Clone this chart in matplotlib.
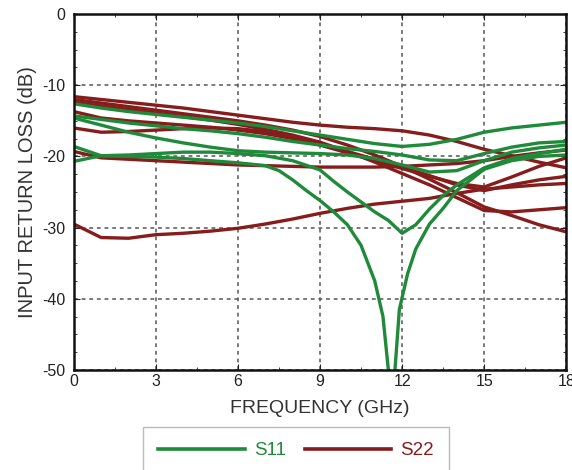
import numpy as np
import matplotlib
matplotlib.use('Agg')
import matplotlib.pyplot as plt
from matplotlib.ticker import MultipleLocator

plt.rcParams['font.family'] = ['Liberation Sans', 'DejaVu Sans']
plt.rcParams['axes.unicode_minus'] = False

GREEN = '#1f8a3a'
RED = '#861c1c'

# common frequency grid (GHz)
freq = [0, 1, 2, 3, 4, 5, 6, 7, 8, 9, 10, 11, 12, 13, 14, 15, 16, 17, 18]

# S11 curves (dB)
s11_1 = [-12.6, -13.2, -13.7, -14.1, -14.5, -14.9, -15.3, -15.8, -16.4, -17.0,
         -17.6, -18.2, -18.6, -18.3, -17.6, -16.6, -16.0, -15.6, -15.2]
s11_2 = [-14.3, -14.8, -15.3, -15.7, -16.1, -16.4, -16.8, -17.3, -17.9, -18.4,
         -18.9, -19.3, -19.8, -20.5, -20.6, -19.6, -18.7, -18.1, -17.9]
s11_3 = [-14.6, -15.6, -16.6, -17.4, -18.1, -18.7, -19.2, -19.4, -19.5, -19.6,
         -19.8, -20.3, -21.2, -22.2, -22.0, -20.6, -19.4, -18.8, -18.4]
freq_b = [0, 1, 2, 3, 4, 5, 6, 7, 8, 9, 9.5, 10, 10.5, 11, 11.5, 12, 12.5, 13,
          13.5, 14, 15, 16, 17, 18]
s11_4 = [-18.6, -19.9, -19.8, -19.6, -19.4, -19.4, -19.6, -19.9, -20.6, -21.9,
         -23.5, -25.0, -26.4, -27.8, -29.0, -30.8, -29.6, -27.4, -25.5, -24.0,
         -21.6, -20.3, -19.6, -19.0]
freq_a = [0, 1, 2, 3, 4, 5, 6, 7, 7.5, 8, 8.5, 9, 9.5, 10, 10.5, 11, 11.3, 11.55,
          11.7, 11.9, 12.2, 12.5, 13, 13.5, 14, 15, 16, 17, 18]
s11_5 = [-20.7, -19.9, -20.0, -20.1, -20.3, -20.6, -20.9, -21.3, -22.0, -23.3,
         -24.8, -26.2, -27.8, -29.6, -32.5, -37.5, -42.5, -52.0, -52.0, -41.5,
         -36.5, -33.0, -29.5, -27.3, -24.8, -21.8, -20.6, -20.0, -19.8]

# S22 curves (dB)
s22_1 = [-11.6, -12.0, -12.4, -12.8, -13.2, -13.7, -14.2, -14.7, -15.2, -15.6,
         -15.9, -16.1, -16.4, -17.0, -17.9, -19.0, -19.9, -20.8, -21.6]
s22_2 = [-12.0, -12.5, -13.0, -13.5, -14.0, -14.5, -15.0, -15.6, -16.3, -17.2,
         -18.4, -19.8, -21.4, -23.2, -25.1, -27.1, -28.3, -29.6, -30.6]
s22_3 = [-12.4, -12.9, -13.4, -13.9, -14.4, -14.9, -15.5, -16.2, -17.0, -18.0,
         -19.3, -20.8, -22.4, -24.0, -25.8, -27.6, -27.8, -27.5, -27.2]
s22_4 = [-13.7, -14.6, -15.0, -15.3, -15.6, -15.9, -16.3, -16.8, -17.5, -18.4,
         -19.5, -20.6, -21.7, -22.8, -23.8, -24.3, -22.9, -21.4, -20.2]
s22_5 = [-16.0, -16.6, -16.5, -16.3, -16.1, -16.0, -16.1, -16.5, -17.2, -18.2,
         -19.3, -20.4, -21.5, -22.7, -24.0, -24.8, -24.0, -23.3, -22.8]
s22_6 = [-19.3, -20.2, -20.4, -20.6, -20.8, -21.0, -21.2, -21.3, -21.4, -21.5,
         -21.5, -21.5, -21.4, -21.2, -21.0, -20.6, -20.0, -19.5, -19.1]
s22_7 = [-29.5, -31.4, -31.5, -31.0, -30.8, -30.5, -30.1, -29.5, -28.8, -28.0,
         -27.3, -26.7, -26.3, -25.9, -25.2, -24.6, -24.3, -24.0, -23.8]

x_ticks = [0, 3, 6, 9, 12, 15, 18]
y_ticks = [0, -10, -20, -30, -40, -50]

fig = plt.figure(figsize=(5.72, 4.70), dpi=100)
ax = fig.add_axes([0.129, 0.213, 0.861, 0.757])

lw = 2.4
for y in [s22_1, s22_2, s22_3, s22_4, s22_5, s22_6, s22_7]:
    ax.plot(freq, y, color=RED, lw=lw)
for y in [s11_1, s11_2, s11_3]:
    ax.plot(freq, y, color=GREEN, lw=lw)
ax.plot(freq_b, s11_4, color=GREEN, lw=lw)
ax.plot(freq_a, s11_5, color=GREEN, lw=lw)

ax.set_xlim(0, 18)
ax.set_ylim(-50, 0)
ax.set_xticks(x_ticks)
ax.set_yticks(y_ticks)
ax.xaxis.set_minor_locator(MultipleLocator(1.5))
ax.yaxis.set_minor_locator(MultipleLocator(2.5))
ax.tick_params(which='both', direction='in', top=True, right=True,
               labelsize=11.5, colors='#222222')
ax.tick_params(axis='x', pad=3)
ax.tick_params(axis='y', pad=6)
ax.tick_params(which='major', length=4)
ax.tick_params(which='minor', length=2)
ax.grid(True, which='major', color='#555555', linestyle=(0, (2.5, 2.5)), lw=1.1)
for s in ax.spines.values():
    s.set_linewidth(1.8)
    s.set_color('#111111')

ax.set_xlabel('FREQUENCY (GHz)', fontsize=14, color='#333333', labelpad=8)
ax.set_ylabel('INPUT RETURN LOSS (dB)', fontsize=14.5, color='#333333', labelpad=4)

h1, = ax.plot([], [], color=GREEN, lw=2.6, label='S11')
h2, = ax.plot([], [], color=RED, lw=2.6, label='S22')
leg = fig.legend(handles=[h1, h2], loc='upper center', bbox_to_anchor=(0.518, 0.091),
                 ncol=2, fontsize=13.5, handlelength=4.6, columnspacing=1.0,
                 handletextpad=0.5, fancybox=False, edgecolor='#aaaaaa',
                 labelcolor='linecolor', borderpad=0.8, borderaxespad=0)
leg.get_frame().set_linewidth(1.0)

fig.savefig('out.png', dpi=100)
